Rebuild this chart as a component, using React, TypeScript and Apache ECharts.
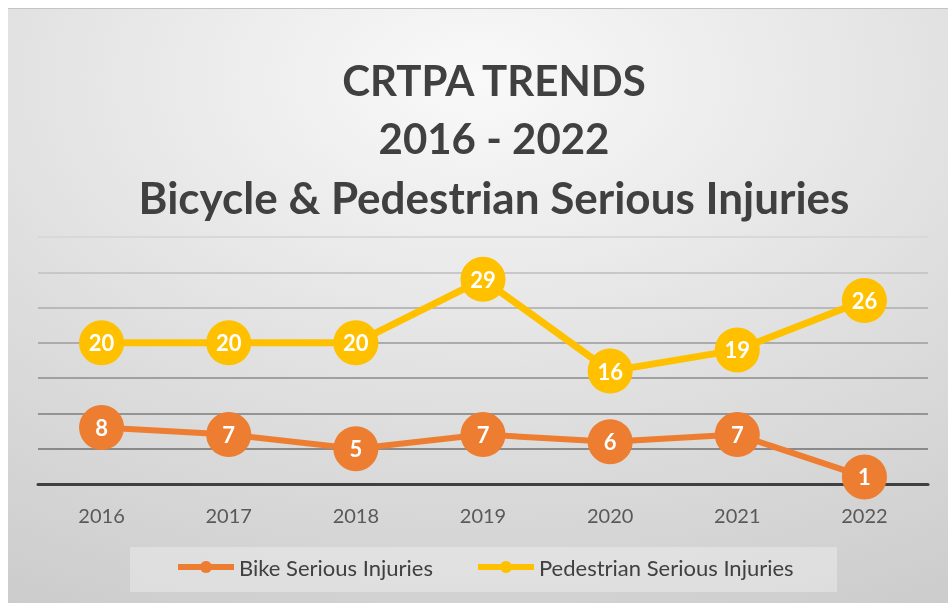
import React, { useEffect, useRef } from "react";
import * as echarts from "echarts";

const years = ["2016", "2017", "2018", "2019", "2020", "2021", "2022"];
const bikeInjuries = [8, 7, 5, 7, 6, 7, 1];
const pedestrianInjuries = [20, 20, 20, 29, 16, 19, 26];
const titleLines = ["CRTPA TRENDS", "2016 - 2022", "Bicycle & Pedestrian Serious Injuries"];
const seriesNames = ["Bike Serious Injuries", "Pedestrian Serious Injuries"];

const FONT = "Lato, 'Noto Sans', sans-serif";

export default function App() {
  const ref = useRef<HTMLDivElement>(null);
  useEffect(() => {
    if (!ref.current) return;
    const chart = echarts.init(ref.current, undefined, { renderer: "svg" });
    const label = {
      show: true,
      position: "inside",
      color: "#ffffff",
      fontWeight: "bold",
      fontSize: 22,
      fontFamily: FONT,
    };
    const titleY = [72, 130, 189];
    chart.setOption({
      animation: false,
      backgroundColor: {
        type: "radial",
        x: 0.5,
        y: 0.12,
        r: 1.25,
        colorStops: [
          { offset: 0, color: "#f9f9f9" },
          { offset: 0.5, color: "#dcdcdc" },
          { offset: 1, color: "#c2c2c2" },
        ],
      },
      graphic: [
        {
          type: "line",
          shape: { x1: 0, y1: 0.5, x2: 940, y2: 0.5 },
          style: { stroke: "#c4c4c4", lineWidth: 1 },
        },
        {
          type: "rect",
          shape: { x: 122, y: 539, width: 707, height: 45 },
          style: { fill: "rgba(255,255,255,0.3)" },
          z: 0,
        },
        ...titleLines.map((t, i) => ({
          type: "text",
          x: 486,
          y: titleY[i],
          style: {
            text: t,
            align: "center",
            verticalAlign: "middle",
            fontFamily: FONT,
            fontWeight: "bold",
            fontSize: i === 2 ? 44 : 42,
            fill: "#404040",
          },
        })),
      ],
      legend: {
        left: 167,
        top: 548,
        padding: 0,
        itemWidth: 56,
        itemHeight: 15,
        itemGap: 42,
        lineStyle: { width: 6 },
        textStyle: { fontFamily: FONT, fontSize: 22, color: "#404040" },
        data: seriesNames,
      },
      grid: { left: 30, right: 20, top: 229, bottom: 119 },
      xAxis: {
        type: "category",
        data: years,
        boundaryGap: true,
        axisLine: { show: true, lineStyle: { color: "#404040", width: 3 } },
        axisTick: { show: false },
        axisLabel: { fontFamily: FONT, fontSize: 20, color: "#595959", margin: 21 },
      },
      yAxis: {
        type: "value",
        min: 0,
        max: 35,
        interval: 5,
        axisLabel: { show: false },
        axisLine: { show: false },
        axisTick: { show: false },
        splitLine: {
          show: true,
          lineStyle: {
            width: 2,
            color: ["#404040", "#8a8a8a", "#949494", "#a0a0a0", "#acacac", "#b9b9b9", "#c8c8c8", "#d8d8d8"],
          },
        },
      },
      series: [
        {
          name: seriesNames[0],
          type: "line",
          data: bikeInjuries,
          symbol: "circle",
          symbolSize: 45,
          lineStyle: { color: "#ED7D31", width: 6 },
          itemStyle: { color: "#ED7D31" },
          label,
          z: 3,
        },
        {
          name: seriesNames[1],
          type: "line",
          data: pedestrianInjuries,
          symbol: "circle",
          symbolSize: 45,
          lineStyle: { color: "#FFC000", width: 7 },
          itemStyle: { color: "#FFC000" },
          label,
          z: 4,
        },
      ],
    });
    return () => chart.dispose();
  }, []);
  return (
    <div
      ref={ref}
      style={{ position: "fixed", left: 8, top: 8, width: 940, height: 595 }}
    />
  );
}
